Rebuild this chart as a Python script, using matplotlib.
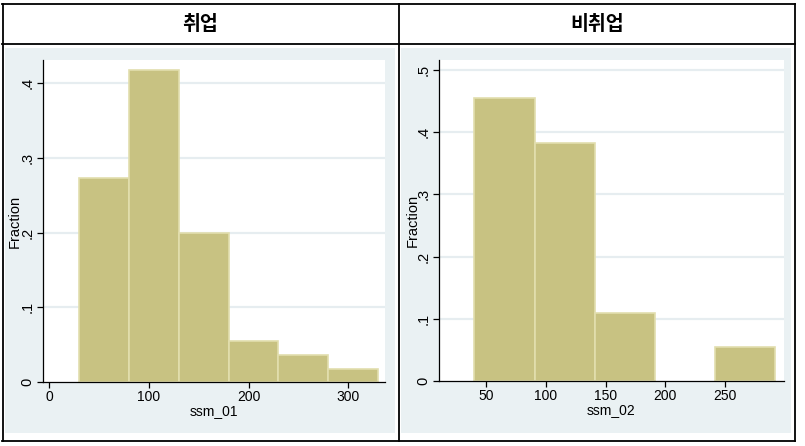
import matplotlib.pyplot as plt
from matplotlib.lines import Line2D
from matplotlib.patches import Rectangle

# data (fraction per bin)
titles = ["취업", "비취업"]
xlabels = ["ssm_01", "ssm_02"]
edges_01 = [30, 80, 130, 180, 230, 280, 330]
frac_01 = [0.273, 0.418, 0.200, 0.055, 0.036, 0.018]
edges_02 = [40.0, 90.4, 140.8, 191.2, 241.6, 292.0]
frac_02 = [0.455, 0.382, 0.109, 0.0, 0.055]
xticks_01 = [0, 100, 200, 300]
xticks_02 = [50, 100, 150, 200, 250]
yticks_01 = [0, 0.1, 0.2, 0.3, 0.4]
yticks_02 = [0, 0.1, 0.2, 0.3, 0.4, 0.5]

W, H = 805, 446
BAR = "#c8c282"
BAR_EDGE = "#e2deae"
BG = "#eaf1f3"
GRID = "#e6edf0"
TICK_FONT = ["Liberation Sans Narrow", "Liberation Sans", "DejaVu Sans"]


def fx(px):
    return px / W


def fy(py):
    return 1 - py / H


def ylab(v):
    if v == 0:
        return "0"
    return ("%.1f" % v).lstrip("0")


def draw_panel(fig, box, edges, fracs, xticks, yticks, xlim, ylim, xlabel, ylabel_x):
    x0, y0, x1, y1 = box
    ax = fig.add_axes([fx(x0), fy(y1), fx(x1 - x0), (y1 - y0) / H])
    ax.set_facecolor("white")
    widths = [b - a for a, b in zip(edges[:-1], edges[1:])]
    lws = [1.2 if f > 0 else 0 for f in fracs]
    ax.bar(edges[:-1], fracs, width=widths, align="edge", color=BAR,
           edgecolor=BAR_EDGE, linewidth=lws, zorder=2)
    ax.set_xlim(*xlim)
    ax.set_ylim(*ylim)
    for v in yticks[1:]:
        ax.axhline(v, color=GRID, lw=1.6, zorder=1)
    ax.set_xticks(xticks)
    ax.set_xticklabels([str(t) for t in xticks], family=TICK_FONT, fontsize=10)
    ax.set_yticks(yticks)
    ax.set_yticklabels([ylab(v) for v in yticks], family=TICK_FONT, fontsize=10.5,
                       rotation=90, va="center")
    ax.tick_params(direction="out", length=4, width=0.9, color="black", pad=2)
    for s in ["top", "right"]:
        ax.spines[s].set_visible(False)
    for s in ["left", "bottom"]:
        ax.spines[s].set_color("black")
        ax.spines[s].set_linewidth(0.9)
    ax.set_xlabel(xlabel, family=TICK_FONT, fontsize=10, labelpad=0)
    ax.set_ylabel("Fraction", family=TICK_FONT, fontsize=10.5)
    ax.yaxis.set_label_coords(ylabel_x, 0.5)
    return ax


def main():
    fig = plt.figure(figsize=(W / 100, H / 100), dpi=100)
    fig.patch.set_facecolor("white")

    # cell backgrounds
    fig.add_artist(Rectangle((fx(5), fy(433)), fx(390), 385 / H,
                             facecolor=BG, edgecolor="none", zorder=0))
    fig.add_artist(Rectangle((fx(401), fy(433)), fx(390), 385 / H,
                             facecolor=BG, edgecolor="none", zorder=0))

    # table lines
    lk = dict(color="black", lw=1.3, zorder=5)
    fig.add_artist(Line2D([fx(2), fx(795)], [fy(4), fy(4)], **lk))
    fig.add_artist(Line2D([fx(2), fx(795)], [fy(44), fy(44)], **lk))
    fig.add_artist(Line2D([fx(2), fx(795)], [fy(440.5), fy(440.5)], **lk))
    fig.add_artist(Line2D([fx(2.5), fx(2.5)], [fy(4), fy(440.5)], **lk))
    fig.add_artist(Line2D([fx(398.5), fx(398.5)], [fy(4), fy(440.5)], **lk))
    fig.add_artist(Line2D([fx(794.5), fx(794.5)], [fy(4), fy(440.5)], **lk))

    tk = dict(family=["Noto Sans CJK KR", "DejaVu Sans"], fontsize=14,
              fontweight="bold", ha="center", va="center")
    fig.text(fx(200), fy(25), titles[0], **tk)
    fig.text(fx(597), fy(25), titles[1], **tk)

    draw_panel(fig, (43, 60, 385, 382), edges_01, frac_01, xticks_01, yticks_01,
               (-6.3, 337), (0, 0.431), xlabels[0], -0.062)
    draw_panel(fig, (439, 60, 784, 381), edges_02, frac_02, xticks_02, yticks_02,
               (10.3, 299.5), (0, 0.516), xlabels[1], -0.056)

    fig.savefig("out.png", dpi=100)
    plt.close(fig)


if __name__ == "__main__":
    main()
